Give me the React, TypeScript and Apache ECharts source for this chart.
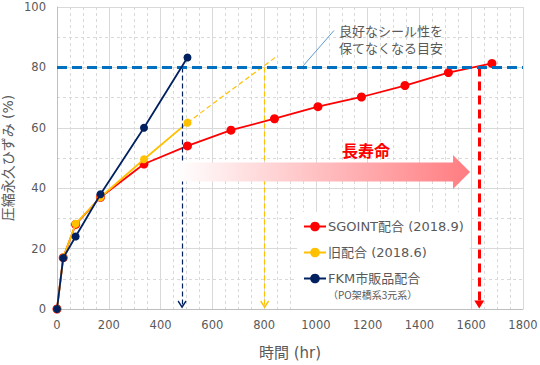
import React, { useEffect, useRef } from "react";
import * as echarts from "echarts";

// ---- data ----
const sgointHours = [0, 24, 72, 168, 336, 504, 672, 840, 1008, 1176, 1344, 1512, 1680];
const sgointValues = [0, 17, 28, 37, 48, 54, 59.2, 63, 67, 70.2, 74, 78.3, 81.3];
const oldHours = [0, 24, 72, 168, 336, 504];
const oldValues = [0, 17, 28.2, 37, 49.6, 61.7];
const fkmHours = [0, 24, 72, 168, 336, 504];
const fkmValues = [0, 16.9, 24, 38, 60, 83.3];
const oldExtensionHours = [504, 843];
const oldExtensionValues = [61.7, 83.3];
const thresholdValue = 80;
const lifeHours = { fkm: 483, old: 802, sgoint: 1631 };
const seriesNames = ["SGOINT配合 (2018.9)", "旧配合 (2018.6)", "FKM市販品配合"];
const fkmSubLabel = "（PO架橋系3元系）";
const annotationLines = ["良好なシール性を", "保てなくなる目安"];
const arrowText = "長寿命";
const xAxisName = "時間 (hr)";
const yAxisName = "圧縮永久ひずみ (%)";

const RED = "#FF0000";
const ORANGE = "#FFC000";
const NAVY = "#002060";
const BLUE = "#0070C0";
const TEXT = "#595959";
const FONT = "'DejaVu Sans', 'Noto Sans CJK JP', sans-serif";
const CJK = "'Noto Sans CJK JP', 'DejaVu Sans', sans-serif";

const chevron = "path://M0,8.6 L5,0 L10,8.6 L8.8,10 L5,3.4 L1.2,10 Z";

const zip = (xs: number[], ys: number[]) => xs.map((x, i) => [x, ys[i]]);

export default function App() {
  const ref = useRef<HTMLDivElement>(null);
  useEffect(() => {
    if (!ref.current) return;
    const chart = echarts.init(ref.current, undefined, { renderer: "svg" });
    const gridLine = { color: "#d9d9d9", width: 1 };
    const option: any = {
      animation: false,
      textStyle: { fontFamily: FONT, color: TEXT },
      grid: { left: 57, top: 7, width: 466, height: 302, containLabel: false, outerBoundsMode: "none" },
      xAxis: {
        type: "value",
        min: 0,
        max: 1800,
        interval: 200,
        name: xAxisName,
        nameLocation: "middle",
        nameGap: 36,
        nameMoveOverlap: false,
        nameTextStyle: { fontSize: 15, color: TEXT, fontFamily: FONT },
        axisLine: { show: true, lineStyle: { color: "#bfbfbf" } },
        axisTick: { show: false },
        axisLabel: { color: TEXT, fontSize: 11.5, margin: 10, fontFamily: FONT, formatter: (v: number) => String(v) },
        splitLine: { show: true, lineStyle: gridLine },
        minorTick: { show: false, splitNumber: 4 },
        minorSplitLine: { show: true, lineStyle: { color: "#d9d9d9", type: [3, 3], width: 1 } },
      },
      yAxis: {
        type: "value",
        min: 0,
        max: 100,
        interval: 20,
        name: yAxisName,
        nameLocation: "middle",
        nameGap: 42,
        nameMoveOverlap: false,
        nameTextStyle: { fontSize: 14, color: TEXT, fontFamily: FONT },
        axisLine: { show: true, lineStyle: { color: "#bfbfbf" } },
        axisTick: { show: false },
        axisLabel: { color: TEXT, fontSize: 11.5, margin: 11, fontFamily: FONT, formatter: (v: number) => String(v) },
        splitLine: { show: true, lineStyle: gridLine },
        minorTick: { show: false, splitNumber: 2 },
        minorSplitLine: { show: true, lineStyle: { color: "#d9d9d9", type: [3, 3], width: 1 } },
      },
      legend: {
        data: seriesNames,
        orient: "vertical",
        left: 297,
        top: 212,
        padding: [8, 6, 24, 6],
        backgroundColor: "#ffffff",
        itemWidth: 22,
        itemHeight: 12,
        itemGap: 13,
        textStyle: { fontSize: 13, color: TEXT, fontFamily: FONT, padding: [0, 0, 0, -3] },
        z: 10,
      },
      series: [
        {
          name: seriesNames[0],
          type: "line",
          data: zip(sgointHours, sgointValues),
          symbol: "circle",
          symbolSize: 9,
          itemStyle: { color: RED },
          lineStyle: { color: RED, width: 1.8 },
          z: 3,
          markLine: {
            silent: true,
            label: { show: false },
            data: [
              [
                { coord: [lifeHours.sgoint, thresholdValue], symbol: "none" },
                { coord: [lifeHours.sgoint, 1.5], symbol: "triangle", symbolSize: [10, 8], symbolRotate: 180 },
              ],
            ],
            lineStyle: { color: RED, width: 3, type: [9, 5] },
          },
        },
        {
          name: seriesNames[1],
          type: "line",
          data: zip(oldHours, oldValues),
          symbol: "circle",
          symbolSize: 8,
          itemStyle: { color: ORANGE },
          lineStyle: { color: ORANGE, width: 1.8 },
          z: 4,
          markLine: {
            silent: true,
            label: { show: false },
            data: [
              [
                { coord: [lifeHours.old, thresholdValue], symbol: "none" },
                { coord: [lifeHours.old, 1.5], symbol: chevron, symbolSize: [9, 8] },
              ],
            ],
            lineStyle: { color: ORANGE, width: 1.2, type: [5, 3] },
          },
        },
        {
          name: "extension",
          type: "line",
          data: zip(oldExtensionHours, oldExtensionValues),
          showSymbol: false,
          symbol: "none",
          lineStyle: { color: ORANGE, width: 1.2, type: [5, 3] },
          z: 2,
          silent: true,
        },
        {
          name: seriesNames[2],
          type: "line",
          data: zip(fkmHours, fkmValues),
          symbol: "circle",
          symbolSize: 8,
          itemStyle: { color: NAVY },
          lineStyle: { color: NAVY, width: 1.8 },
          z: 5,
          markLine: {
            silent: true,
            label: { show: false },
            data: [
              [
                { coord: [lifeHours.fkm, thresholdValue], symbol: "none" },
                { coord: [lifeHours.fkm, 1.5], symbol: chevron, symbolSize: [9, 8] },
              ],
              {
                yAxis: thresholdValue,
                symbol: "none",
                lineStyle: { color: BLUE, width: 3, type: [10, 5] },
              },
            ],
            symbol: "none",
            lineStyle: { color: NAVY, width: 1.2, type: [5, 3] },
          },
        },
      ],
      graphic: [
        {
          type: "polygon",
          z: 20,
          silent: true,
          shape: {
            points: [
              [176, 162.5],
              [453, 162.5],
              [453, 155],
              [470, 172],
              [453, 189],
              [453, 181.5],
              [176, 181.5],
            ],
          },
          style: {
            fill: new echarts.graphic.LinearGradient(0, 0, 1, 0, [
              { offset: 0, color: "rgba(255,255,255,1)" },
              { offset: 1, color: "#FF7C80" },
            ]),
          },
        },
        {
          type: "text",
          z: 21,
          x: 366,
          y: 150,
          style: {
            text: arrowText,
            fontSize: 16,
            fontWeight: "bold",
            fill: RED,
            fontFamily: CJK,
            align: "center",
            verticalAlign: "middle",
          },
        },
        {
          type: "line",
          z: 21,
          shape: { x1: 303, y1: 66, x2: 334, y2: 30.5 },
          style: { stroke: "#5B9BD5", lineWidth: 1 },
        },
        {
          type: "text",
          z: 21,
          x: 339,
          y: 30.5,
          style: {
            text: annotationLines[0],
            fontSize: 13,
            fill: TEXT,
            fontFamily: CJK,
            align: "left",
            verticalAlign: "middle",
          },
        },
        {
          type: "text",
          z: 21,
          x: 339,
          y: 47,
          style: {
            text: annotationLines[1],
            fontSize: 13,
            fill: TEXT,
            fontFamily: CJK,
            align: "left",
            verticalAlign: "middle",
          },
        },
        {
          type: "text",
          z: 30,
          x: 328,
          y: 294,
          style: {
            text: fkmSubLabel,
            fontSize: 10,
            fill: TEXT,
            fontFamily: CJK,
            align: "left",
            verticalAlign: "middle",
          },
        },
      ],
    };
    chart.setOption(option);
    return () => chart.dispose();
  }, []);
  return <div ref={ref} style={{ width: 540, height: 365, position: "absolute", left: 0, top: 0 }} />;
}
